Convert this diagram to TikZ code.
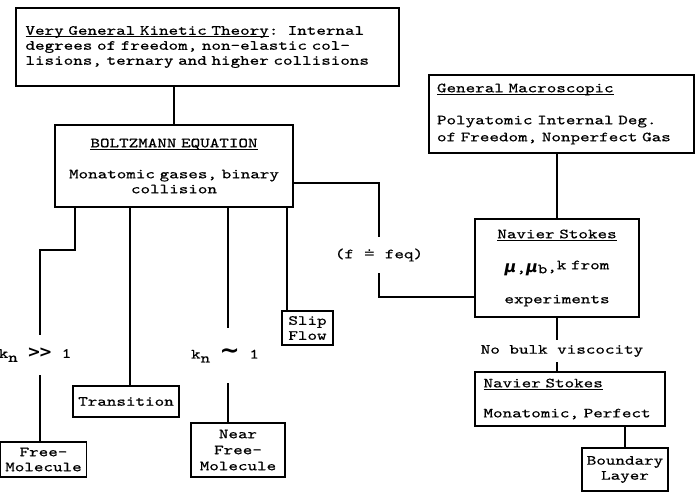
\documentclass[tikz,border=0pt]{standalone}
\usepackage{fontspec}
% typewriter face, widened to the pitch of the original typescript
\newfontfamily\tw[FakeStretch=1.3,FakeBold=0.6]{lmmono10-regular.otf}
\newfontfamily\symfont{DejaVu Sans}
\newcommand\twf[1]{\tw\fontsize{14}{#1}\selectfont\frenchspacing}
% underline sitting just below the baseline
\newsavebox\ulbox
\newcommand\ulin[1]{\sbox\ulbox{#1}\rlap{\rule[-2.6pt]{\wd\ulbox}{1.1pt}}\usebox\ulbox}
\begin{document}
\begin{tikzpicture}[x=1pt,y=-1pt,
  box/.style={draw, line width=1.3pt, inner sep=0pt, align=center, font=\twf{15}},
  lbl/.style={inner sep=0pt, font=\twf{15}},
  wire/.style={line width=1.5pt}]
\useasboundingbox (0,0) rectangle (695,492);

% ---- boxes ----
\node[box, align=left, minimum width=383, minimum height=78, text width=364]
  (top) at (207.5,47)
  {\ulin{Very General Kinetic Theory}:~~Internal\\
   degrees of freedom, non-elastic col-\\
   lisions, ternary and higher collisions};

\node[box, minimum width=238, minimum height=82, text width=230]
  (bz) at (174,166)
  {\ulin{BOLTZMANN EQUATION}\\[16pt]
   Monatomic gases, binary\\ collision};

\node[box, align=left, font=\twf{17}, minimum width=265, minimum height=78, text width=249]
  (gm) at (561.5,114)
  {\ulin{General Macroscopic}\\[15pt]
   Polyatomic Internal Deg.\\ of Freedom, Nonperfect Gas};

\node[box, minimum width=164, minimum height=98, text width=160]
  (ns1) at (557,268)
  {\ulin{Navier Stokes}\\[19pt]
   {\symfont\bfseries\itshape\fontsize{16}{16}\selectfont μ},{\symfont\bfseries\itshape\fontsize{16}{16}\selectfont μ}\raisebox{-1pt}{b}\raisebox{1pt}{,}\raisebox{3pt}{k from}\\[16pt]
   experiments};

\node[box, align=left, minimum width=190, minimum height=54, text width=173]
  (ns2) at (570,399)
  {\ulin{Navier Stokes}\\[15pt] Monatomic, Perfect};

\node[box, minimum width=86, minimum height=35] (freem) at (43.5,459.5) {Free-\\Molecule};
\node[box, minimum width=106, minimum height=31] (trans) at (126,401.5) {Transition};
\node[box, font=\twf{16}, minimum width=94, minimum height=54] (nearfm) at (238,450) {Near\\Free-\\Molecule};
\node[box, minimum width=51, minimum height=34] (slip) at (307.5,328) {Slip\\Flow};
\node[box, minimum width=86, minimum height=43] (bl) at (625,469.5) {Boundary\\Layer};

% ---- labels set into the connectors ----
\node[lbl, minimum height=36] (feq) at (379,255) {(f {\symfont ≐} feq)};
\node[lbl, minimum height=40] (kbig) at (35,355)
  {k\raisebox{-4pt}{n}~{\symfont\bfseries\fontsize{16}{16}\selectfont >\kern-2pt>}~1};
\node[lbl, minimum height=55] (ksim) at (225,355.5)
  {k\raisebox{-4pt}{n}~{\symfont\bfseries\fontsize{24}{24}\selectfont ∼}~1};
\node[lbl, minimum height=22] (nobulk) at (562,351) {No bulk viscocity};

% ---- connectors ----
\coordinate (cR) at (75,250);
\coordinate (cL) at (40,250);

\draw[wire] (top.south -| bz.north) -- (bz.north);
\draw[wire] (cR |- bz.south) -- (cR) -- (cL) -- (cL |- kbig.north);
\draw[wire] (cL |- kbig.south) -- (cL |- freem.north);
\draw[wire] ([xshift=4pt]trans.north |- bz.south) -- ([xshift=4pt]trans.north);
\draw[wire] ([xshift=3pt]ksim.north |- bz.south) -- ([xshift=3pt]ksim.north);
\draw[wire] ([xshift=3pt]ksim.south) -- ([xshift=3pt]ksim.south |- nearfm.north);
\draw[wire] ([xshift=5.6pt]slip.north west |- bz.south) -- ([xshift=5.6pt]slip.north west);
\draw[wire] ([yshift=-17pt]bz.east) -| (feq.north);
\draw[wire] (feq.south) |- ([yshift=-29pt]ns1.west);
\draw[wire] (gm.south -| ns1.north) -- (ns1.north);
\draw[wire] (ns1.south) -- (ns1.south |- nobulk.north);
\draw[wire] (ns1.south |- nobulk.south) -- (ns1.south |- ns2.north);
\draw[wire] (bl.north |- ns2.south) -- (bl.north);
\end{tikzpicture}
\end{document}
